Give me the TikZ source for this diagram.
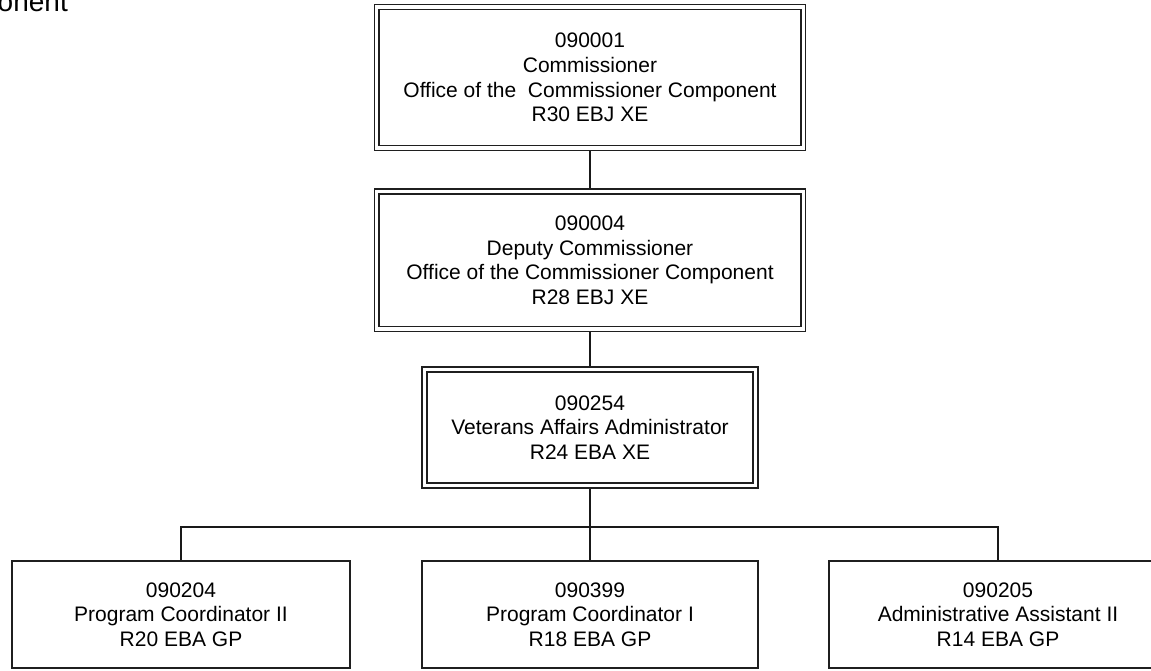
\documentclass[tikz,border=0pt]{standalone}
\usepackage{fontspec}
\setmainfont{Liberation Sans}
\pgfdeclarelayer{bg}
\pgfsetlayers{bg,main}
\begin{document}
\begin{tikzpicture}[x=1pt,y=-1pt,
  boxtext/.style={align=center,font=\fontsize{21}{24.7}\selectfont,inner sep=0pt,text=black},
  dbox/.style={boxtext,draw=black!88,line width=1.4pt,double=white,double distance=3.4pt,fill=white},
  sbox/.style={boxtext,draw=black!88,line width=1.5pt,fill=white},
  conn/.style={draw=black!90,line width=1.8pt}]
\useasboundingbox (0,0) rectangle (1151,671);
\node[anchor=base east,font=\fontsize{28}{30}\selectfont,inner sep=0pt] (title) at (68,12) {onent};

\node[dbox,minimum width=426.5pt,minimum height=141pt] (b1) at (590,77.5)
  {090001\\Commissioner\\Office of the~ Commissioner Component\\R30 EBJ XE};
\node[dbox,minimum width=426.5pt,minimum height=137.5pt] (b2) at (590,260.25)
  {090004\\Deputy Commissioner\\Office of the Commissioner Component\\R28 EBJ XE};
\node[dbox,minimum width=331pt,minimum height=116pt] (b3) at (590,427.5)
  {090254\\Veterans Affairs Administrator\\R24 EBA XE};
\node[sbox,minimum width=338pt,minimum height=107pt] (l) at (181,614.5)
  {090204\\Program Coordinator II\\R20 EBA GP};
\node[sbox,minimum width=336pt,minimum height=107pt] (m) at (590,614.5)
  {090399\\Program Coordinator I\\R18 EBA GP};
\node[sbox,minimum width=338pt,minimum height=107pt] (r) at (998,614.5)
  {090205\\Administrative Assistant II\\R14 EBA GP};
\coordinate (bus) at (590,527);

\begin{pgfonlayer}{bg}
\fill[white] (0,0) rectangle (1151,671);
\draw[conn] (b1.south) -- (b2.north);
\draw[conn] (b2.south) -- (b3.north);
\draw[conn] (b3.south) -- (m.north);
\draw[conn] (l.north) |- (bus) -| (r.north);
\end{pgfonlayer}
\end{tikzpicture}
\end{document}
